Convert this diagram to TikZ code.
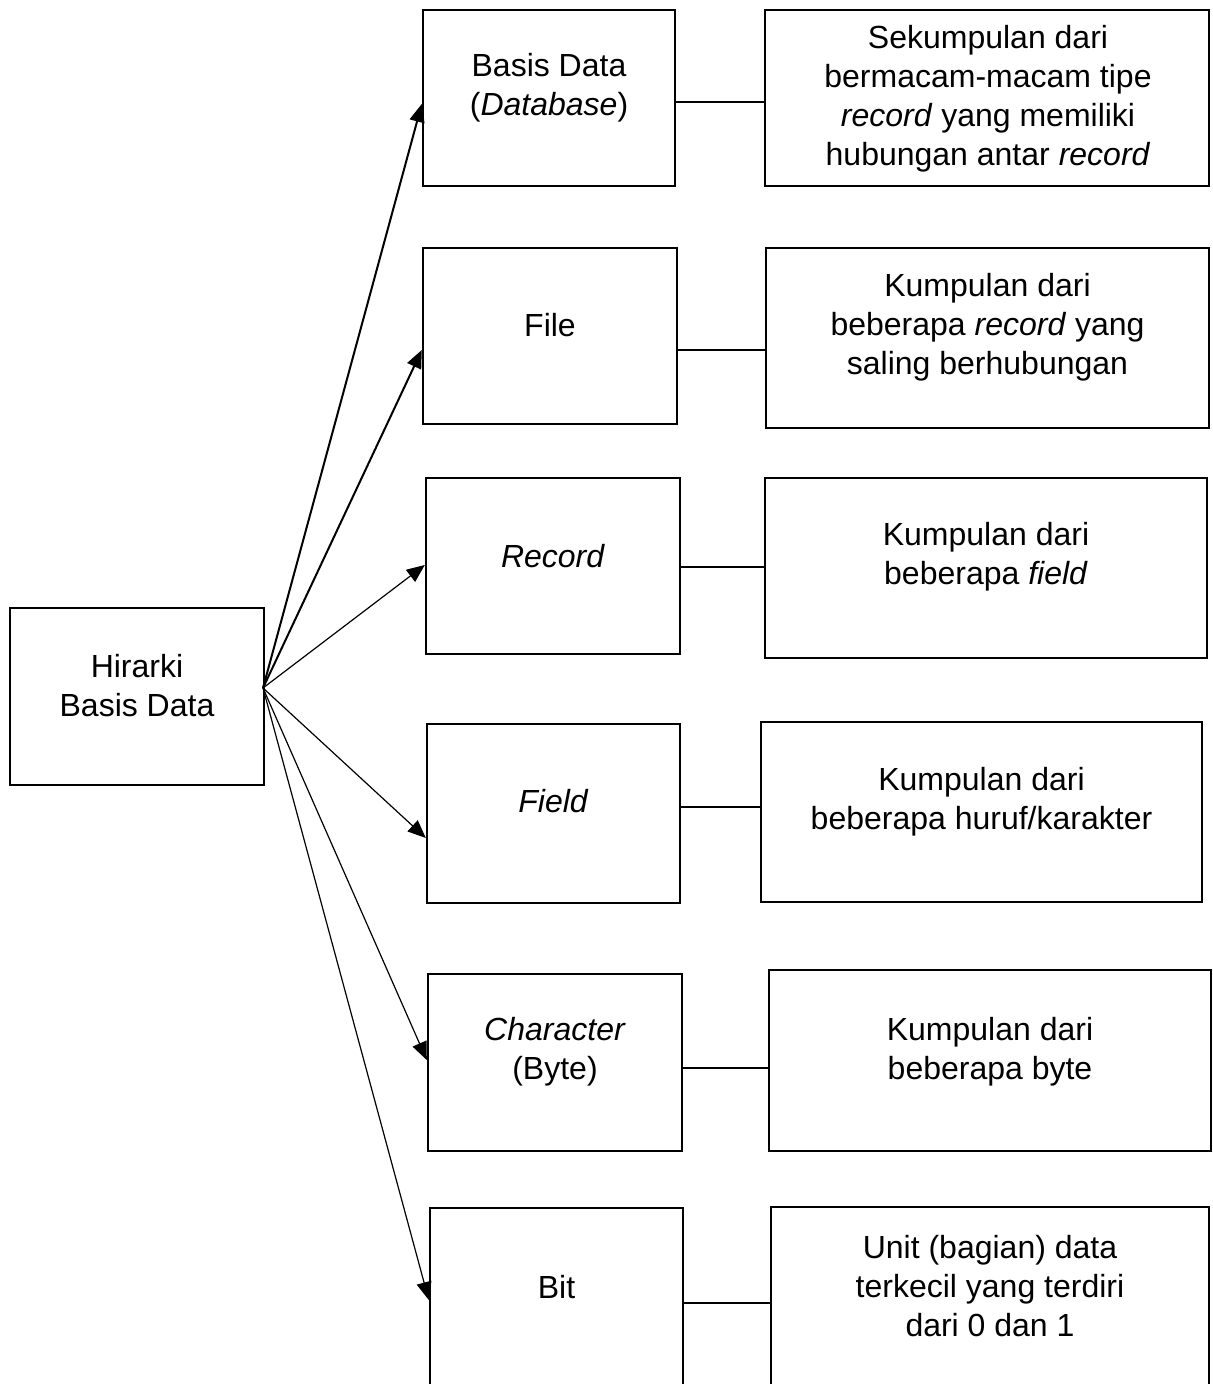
\documentclass[tikz,border=0pt]{standalone}
\usepackage{fontspec}
\setmainfont{Liberation Sans}
\usetikzlibrary{arrows.meta}

\begin{document}
\begin{tikzpicture}[x=0.5pt,y=-0.5pt,
    kotak/.style 2 args={draw,line width=1.2pt,inner sep=0pt,minimum width=#1*0.5pt,minimum height=#2*0.5pt},
    teks/.style={align=center,inner sep=0pt,font=\fontsize{16}{19.5}\selectfont},
    panah/.style={-{Triangle[length=9pt,width=7.5pt]},line width=0.6pt},
    tebal/.style={line width=1pt},
    garis/.style={line width=1pt}]
	\path[use as bounding box,clip] (0,0) rectangle (1213,1384);
	% kotak kiri dan kanan
	\node[kotak={254}{177}] (hirarki) at (137,696.5) {};
	\node[kotak={252}{176}] (basis) at (549,98) {};
	\node[kotak={444}{176}] (ket1) at (987,98) {};
	\node[kotak={254}{176}] (file) at (550,336) {};
	\node[kotak={443}{180}] (ket2) at (987.5,338) {};
	\node[kotak={254}{176}] (record) at (553,566) {};
	\node[kotak={442}{180}] (ket3) at (986,568) {};
	\node[kotak={253}{179}] (field) at (553.5,813.5) {};
	\node[kotak={441}{180}] (ket4) at (981.5,812) {};
	\node[kotak={254}{177}] (char) at (555,1062.5) {};
	\node[kotak={442}{181}] (ket5) at (990,1060.5) {};
	\node[kotak={253}{190}] (bit) at (556.5,1303) {};
	\node[kotak={438}{190}] (ket6) at (990,1302) {};
	% teks
	\node[teks] (t-hirarki) at (137,686) {Hirarki\\Basis Data};
	\node[teks] (t-basis) at (549,88) {Basis Data\\(\textit{Database})};
	\node[teks] (t-ket1) at (988,98.5) {Sekumpulan dari\\bermacam-macam tipe\\\textit{record} yang memiliki\\hubungan antar \textit{record}};
	\node[teks] (t-file) at (550,325) {File};
	\node[teks] (t-ket2) at (987.5,327) {Kumpulan dari\\beberapa \textit{record} yang\\saling berhubungan};
	\node[teks] (t-record) at (553,556) {\textit{Record}};
	\node[teks] (t-ket3) at (986,557) {Kumpulan dari\\beberapa \textit{field}};
	\node[teks] (t-field) at (553.5,801) {\textit{Field}};
	\node[teks] (t-ket4) at (981.5,802) {Kumpulan dari\\beberapa huruf/karakter};
	\node[teks] (t-char) at (555,1052) {\textit{Character}\\(Byte)};
	\node[teks] (t-ket5) at (990,1052) {Kumpulan dari\\beberapa byte};
	\node[teks] (t-bit) at (556.5,1287) {Bit};
	\node[teks] (t-ket6) at (990,1286) {Unit (bagian) data\\terkecil yang terdiri\\dari 0 dan 1};
	% panah
	\coordinate (akar) at (263,688);
	\draw[panah,tebal] (akar) -- (basis.west |- 0,104);
	\draw[panah,tebal] (akar) -- (file.west |- 0,350);
	\draw[panah] (akar) -- (record.west |- 0,565);
	\draw[panah] (akar) -- (field.west |- 0,838);
	\draw[panah] (akar) -- (char.west |- 0,1060);
	\draw[panah] (akar) -- (bit.west |- 0,1300);
	% garis ke keterangan
	\draw[garis] (basis.east |- 0,102) -- (ket1.west |- 0,102);
	\draw[garis] (file.east |- 0,350) -- (ket2.west |- 0,350);
	\draw[garis] (record.east |- 0,567) -- (ket3.west |- 0,567);
	\draw[garis] (field.east |- 0,807) -- (ket4.west |- 0,807);
	\draw[garis] (char.east |- 0,1068) -- (ket5.west |- 0,1068);
	\draw[garis] (bit.east |- 0,1303) -- (ket6.west |- 0,1303);
\end{tikzpicture}
\end{document}
